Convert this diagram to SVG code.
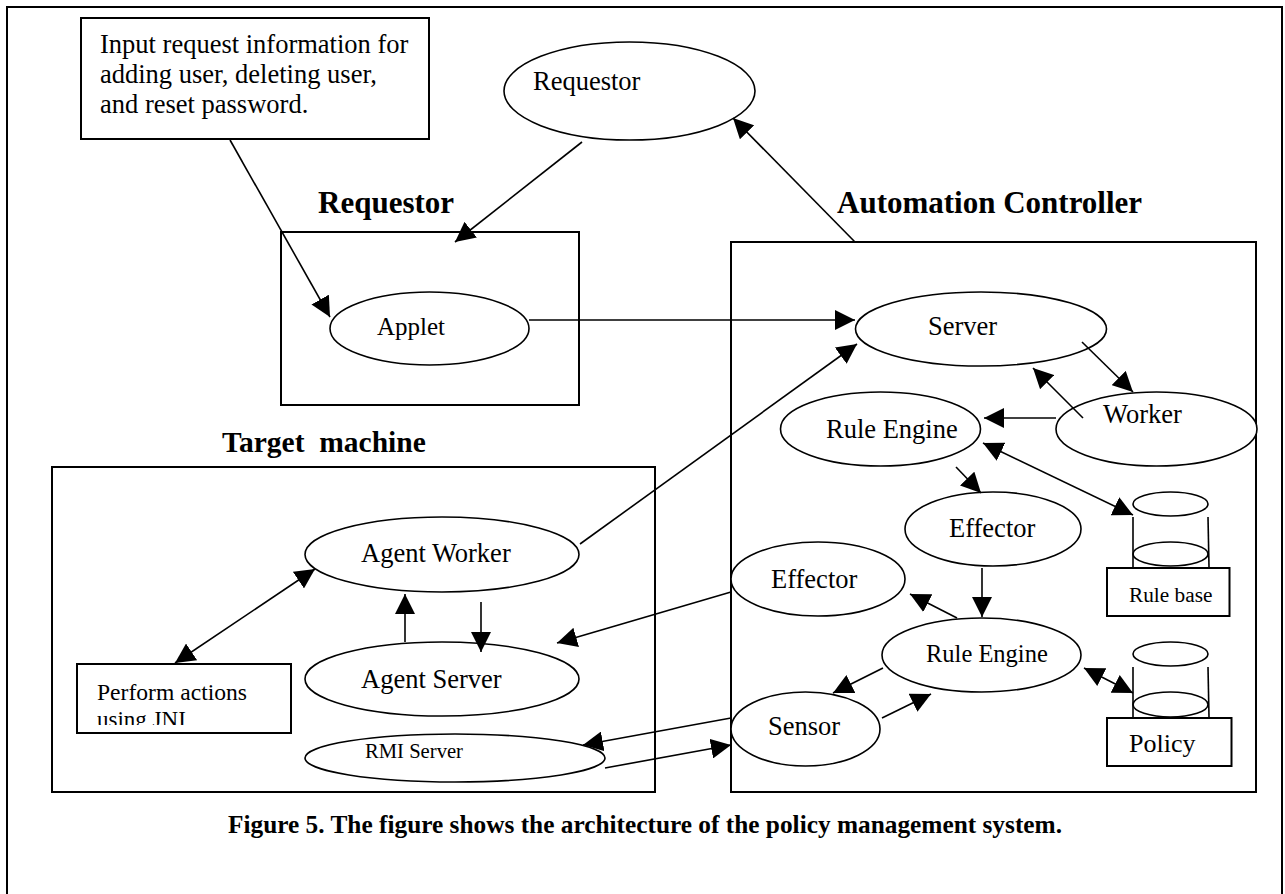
<svg xmlns="http://www.w3.org/2000/svg" width="1285" height="894" viewBox="0 0 1285 894">
<defs>
<style>
.box{fill:#fff;stroke:#000;stroke-width:2}
.ell{fill:#fff;stroke:#000;stroke-width:1.6}
.cyl{fill:none;stroke:#000;stroke-width:1.6}
.t{font-family:"Liberation Serif","Times New Roman",serif;font-size:26.5px;fill:#000}
.b{font-family:"Liberation Serif","Times New Roman",serif;font-weight:bold;font-size:31px;fill:#000}
#connectors line{stroke:#000;stroke-width:1.6;fill:none}
.e{marker-end:url(#arr)}
.s{marker-start:url(#arr)}
</style>
<marker id="arr" markerUnits="userSpaceOnUse" viewBox="0 0 20 20" refX="20" refY="10" markerWidth="20" markerHeight="20" orient="auto-start-reverse">
<path d="M0,0 L20,10 L0,20 z" fill="#000"/>
</marker>
<clipPath id="clipJNI"><rect x="77" y="664" width="214" height="61"/></clipPath>
</defs>
<rect width="1285" height="894" fill="#fff"/>
<path d="M7,900 V7 H1282 V900" fill="none" stroke="#000" stroke-width="2"/>

<g id="input-note">
<rect class="box" x="81" y="18" width="348" height="121"/>
<text class="t" x="100" y="53">Input request information for</text>
<text class="t" x="100" y="83">adding user, deleting user,</text>
<text class="t" x="100" y="113">and reset password.</text>
</g>

<g id="requestor-ellipse">
<ellipse class="ell" cx="629.5" cy="91" rx="125.5" ry="49"/>
<text class="t" x="533" y="90">Requestor</text>
</g>

<g id="requestor-group">
<text class="b" x="318" y="213">Requestor</text>
<rect class="box" x="281" y="232" width="298" height="173"/>
</g>

<g id="applet">
<ellipse class="ell" cx="429.5" cy="328.5" rx="99.5" ry="36.5"/>
<text class="t" x="377" y="335" style="font-size:25px">Applet</text>
</g>

<g id="automation-controller">
<text class="b" x="837" y="213">Automation Controller</text>
<rect class="box" x="731" y="242" width="525" height="550"/>
</g>

<g id="server">
<ellipse class="ell" cx="981" cy="329" rx="125.5" ry="37"/>
<text class="t" x="928" y="335">Server</text>
</g>

<g id="worker">
<ellipse class="ell" cx="1156.5" cy="429" rx="100.5" ry="37"/>
<text class="t" x="1103" y="423">Worker</text>
</g>

<g id="rule-engine-1">
<ellipse class="ell" cx="880.5" cy="429" rx="100" ry="37"/>
<text class="t" x="826" y="438">Rule Engine</text>
</g>

<g id="effector-1">
<ellipse class="ell" cx="993" cy="529" rx="88" ry="37"/>
<text class="t" x="949" y="537">Effector</text>
</g>

<g id="effector-2">
<ellipse class="ell" cx="818" cy="579" rx="87" ry="37"/>
<text class="t" x="771" y="588">Effector</text>
</g>

<g id="rule-engine-2">
<ellipse class="ell" cx="981.5" cy="655" rx="99.5" ry="37"/>
<text class="t" x="926" y="662" style="font-size:24.5px">Rule Engine</text>
</g>

<g id="sensor">
<ellipse class="ell" cx="805.5" cy="729" rx="74.5" ry="37"/>
<text class="t" x="768" y="735">Sensor</text>
</g>

<g id="rule-base">
<ellipse class="cyl" cx="1170.5" cy="504" rx="37.5" ry="12"/>
<line class="cyl" x1="1133" y1="517" x2="1133" y2="567"/>
<line class="cyl" x1="1208" y1="517" x2="1209" y2="567"/>
<ellipse class="cyl" cx="1170.5" cy="554" rx="37.5" ry="12"/>
<rect class="box" x="1107" y="568" width="122.5" height="48"/>
<text class="t" x="1129" y="602" style="font-size:21.3px">Rule base</text>
</g>

<g id="policy">
<ellipse class="cyl" cx="1170.5" cy="654" rx="37.5" ry="12"/>
<line class="cyl" x1="1133" y1="667" x2="1133" y2="717"/>
<line class="cyl" x1="1208" y1="667" x2="1209" y2="717"/>
<ellipse class="cyl" cx="1170.5" cy="704.5" rx="37.5" ry="12.5"/>
<rect class="box" x="1107" y="718" width="124.5" height="48"/>
<text class="t" x="1129" y="752" style="font-size:26px">Policy</text>
</g>

<g id="target-machine">
<text class="b" x="222" y="452" style="font-size:29.5px;white-space:pre" xml:space="preserve">Target  machine</text>
<rect class="box" x="52" y="467" width="603" height="325"/>
</g>

<g id="agent-worker">
<ellipse class="ell" cx="442" cy="554.5" rx="137" ry="37.5"/>
<text class="t" x="361" y="562">Agent Worker</text>
</g>

<g id="agent-server">
<ellipse class="ell" cx="442" cy="679" rx="137" ry="37"/>
<text class="t" x="361" y="688">Agent Server</text>
</g>

<g id="perform-actions">
<rect class="box" x="77" y="664" width="214" height="69"/>
<text class="t" x="97" y="700" style="font-size:23px" textLength="150" lengthAdjust="spacingAndGlyphs">Perform actions</text>
<text class="t" x="97" y="727" style="font-size:23px" clip-path="url(#clipJNI)">using JNI</text>
</g>

<g id="rmi-server">
<ellipse class="ell" cx="455" cy="758" rx="150" ry="24"/>
<text class="t" x="365" y="758" style="font-size:20.5px" textLength="98" lengthAdjust="spacingAndGlyphs">RMI Server</text>
</g>

<g id="connectors">
<line class="e" x1="230" y1="140" x2="330" y2="317"/>
<line class="e" x1="582" y1="142" x2="455" y2="242"/>
<line class="e" x1="855" y1="242" x2="733" y2="118"/>
<line class="e" x1="529" y1="320" x2="855" y2="320"/>
<line class="e" x1="580" y1="544" x2="857" y2="344"/>
<line class="e" x1="1082" y1="342" x2="1133" y2="392"/>
<line class="e" x1="1083" y1="418" x2="1033" y2="368"/>
<line class="e" x1="1056" y1="418" x2="984" y2="418"/>
<line class="e s" x1="983" y1="443" x2="1133" y2="515"/>
<line class="e" x1="956" y1="467" x2="981" y2="493"/>
<line class="e" x1="982" y1="568" x2="982" y2="617"/>
<line class="e" x1="957" y1="618" x2="910" y2="594"/>
<line class="e" x1="883" y1="668" x2="833" y2="693"/>
<line class="e" x1="882" y1="718" x2="931" y2="694"/>
<line class="e s" x1="1084" y1="668" x2="1133" y2="693"/>
<line class="e" x1="731" y1="592" x2="557" y2="643"/>
<line class="e" x1="731" y1="718" x2="583" y2="745"/>
<line class="e" x1="605" y1="768" x2="731" y2="745"/>
<line class="e s" x1="175" y1="663" x2="315" y2="569"/>
<line class="e" x1="405" y1="642" x2="405" y2="594"/>
<line class="e" x1="481" y1="602" x2="481" y2="652"/>
</g>

<text class="b" x="228" y="833" style="font-size:26px" textLength="834" lengthAdjust="spacingAndGlyphs">Figure 5. The figure shows the architecture of the policy management system.</text>
</svg>
